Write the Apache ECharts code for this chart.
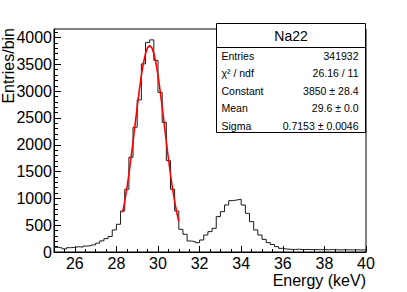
<!DOCTYPE html>
<html><head><meta charset="utf-8">
<script src="https://cdn.jsdelivr.net/npm/echarts@6/dist/echarts.min.js"></script>
<style>html,body{margin:0;padding:0;background:#fff}#c{width:407px;height:292px}</style>
</head><body><div id="c"></div>
<script>
// ---- data ----
const binStart = 25.0;
const binWidth = 0.2;
const counts = [
  87, 75, 58, 80, 86, 98, 92, 110, 118, 132,
  165, 208, 250, 290, 411, 517, 765, 1170, 1767, 2328,
  2837, 3509, 3910, 3957, 3575, 2978, 2418, 1704, 1170, 765,
  423, 330, 205, 193, 174, 224, 317, 380, 442, 660,
  753, 877, 958, 971, 983, 877, 722, 566, 411, 317,
  236, 175, 140, 100, 68, 55, 50, 47, 52, 45,
  48, 44, 47, 42, 45, 40, 46, 43, 39, 44,
  41, 38, 42, 37, 40
];
const fitEnergy = [28.3,28.4,28.5,28.6,28.7,28.8,28.9,29.0,29.1,29.2,29.3,29.4,29.5,29.6,
                   29.7,29.8,29.9,30.0,30.1,30.2,30.3,30.4,30.5,30.6,30.7,30.8,30.9,31.0];
const fitValue  = [738,943,1180,1449,1744,2060,2385,2708,3016,3293,3526,3703,3813,3850,
                   3813,3703,3526,3293,3016,2708,2385,2060,1744,1449,1180,943,738,567];
const xTickLabels = [26, 28, 30, 32, 34, 36, 38, 40];
const yTickLabels = [0, 500, 1000, 1500, 2000, 2500, 3000, 3500, 4000];
const xTitle = 'Energy (keV)';
const yTitle = 'Entries/bin';
const statsTitle = 'Na22';
const statsNames = ['Entries', 'χ² / ndf', 'Constant', 'Mean', 'Sigma'];
const statsValues = ['341932', '26.16 / 11', '3850 ± 28.4', '29.6 ± 0.0', '0.7153 ± 0.0046'];

// ---- build ----
const histData = counts.map((c, i) => [binStart + i * binWidth, c]);
histData.push([binStart + counts.length * binWidth, counts[counts.length - 1]]);
const fitData = fitEnergy.map((e, i) => [e, fitValue[i]]);
const xMinor = []; for (let v = 25; v <= 40; v += 0.5) xMinor.push(v);
const yMinor = []; for (let v = 0; v <= 4100; v += 100) yMinor.push(v);

const FONT = 'Liberation Sans, Arial, Helvetica, sans-serif';
const chart = echarts.init(document.getElementById('c'), null, {renderer: 'svg'});

const rowY = [55.5, 73, 90.5, 108, 126];
const statEls = [
  {type: 'rect', shape: {x: 216.5, y: 23.5, width: 149, height: 109}, style: {fill: '#fff', stroke: '#000', lineWidth: 1}},
  {type: 'line', shape: {x1: 216.5, y1: 47.5, x2: 365.5, y2: 47.5}, style: {stroke: '#000', lineWidth: 1}},
  {type: 'text', x: 291, y: 36, style: {text: statsTitle, font: '14px ' + FONT, fill: '#000', align: 'center', verticalAlign: 'middle', textAlign: 'center', textVerticalAlign: 'middle'}}
];
statsNames.forEach((n, i) => {
  statEls.push({type: 'text', x: 221.5, y: rowY[i], style: {text: n, font: '10.5px ' + FONT, fill: '#000', align: 'left', verticalAlign: 'middle', textAlign: 'left', textVerticalAlign: 'middle'}});
  statEls.push({type: 'text', x: 358.5, y: rowY[i], style: {text: statsValues[i], font: '10.5px ' + FONT, fill: '#000', align: 'right', verticalAlign: 'middle', textAlign: 'right', textVerticalAlign: 'middle'}});
});

const plain = v => String(v);
const option = {
  animation: false,
  backgroundColor: '#fff',
  grid: {left: 54, right: 41, top: 29, bottom: 40, show: true, borderColor: '#000', borderWidth: 1, backgroundColor: '#fff'},
  xAxis: [
    {type: 'value', min: 25, max: 40, position: 'bottom',
     axisLine: {show: true, lineStyle: {color: '#000', width: 1}},
     axisTick: {show: true, inside: true, length: 6, customValues: xTickLabels, lineStyle: {color: '#000'}},
     axisLabel: {show: true, customValues: xTickLabels, formatter: plain, fontSize: 16, fontFamily: FONT, color: '#000', margin: 3},
     splitLine: {show: false}},
    {type: 'value', min: 25, max: 40, position: 'bottom',
     axisLine: {show: false},
     axisTick: {show: true, inside: true, length: 3, customValues: xMinor, lineStyle: {color: '#000'}},
     axisLabel: {show: false}, splitLine: {show: false}}
  ],
  yAxis: [
    {type: 'value', min: 0, max: 4160, position: 'left',
     axisLine: {show: true, lineStyle: {color: '#000', width: 1}},
     axisTick: {show: true, inside: true, length: 7, customValues: yTickLabels, lineStyle: {color: '#000'}},
     axisLabel: {show: true, customValues: yTickLabels, formatter: plain, fontSize: 16, fontFamily: FONT, color: '#000', margin: 2},
     splitLine: {show: false}},
    {type: 'value', min: 0, max: 4160, position: 'left',
     axisLine: {show: false},
     axisTick: {show: true, inside: true, length: 4, customValues: yMinor, lineStyle: {color: '#000'}},
     axisLabel: {show: false}, splitLine: {show: false}}
  ],
  series: [
    {name: 'hist', type: 'line', step: 'end', data: histData, showSymbol: false, symbol: 'none',
     lineStyle: {color: '#1a1a1a', width: 1}, z: 2},
    {name: 'fit', type: 'line', data: fitData, showSymbol: false, symbol: 'none',
     lineStyle: {color: '#ff0000', width: 1.6}, z: 3}
  ],
  graphic: [
    {type: 'group', z: 100, children: statEls},
    {type: 'text', x: 366, y: 280, z: 100, style: {text: xTitle, font: '16px ' + FONT, fill: '#000', align: 'right', verticalAlign: 'middle', textAlign: 'right', textVerticalAlign: 'middle'}},
    {type: 'text', x: 8.5, y: 28, rotation: Math.PI / 2, z: 100, style: {text: yTitle, font: '16px ' + FONT, fill: '#000', align: 'right', verticalAlign: 'middle', textAlign: 'right', textVerticalAlign: 'middle'}}
  ]
};
chart.setOption(option);
</script>
</body></html>
